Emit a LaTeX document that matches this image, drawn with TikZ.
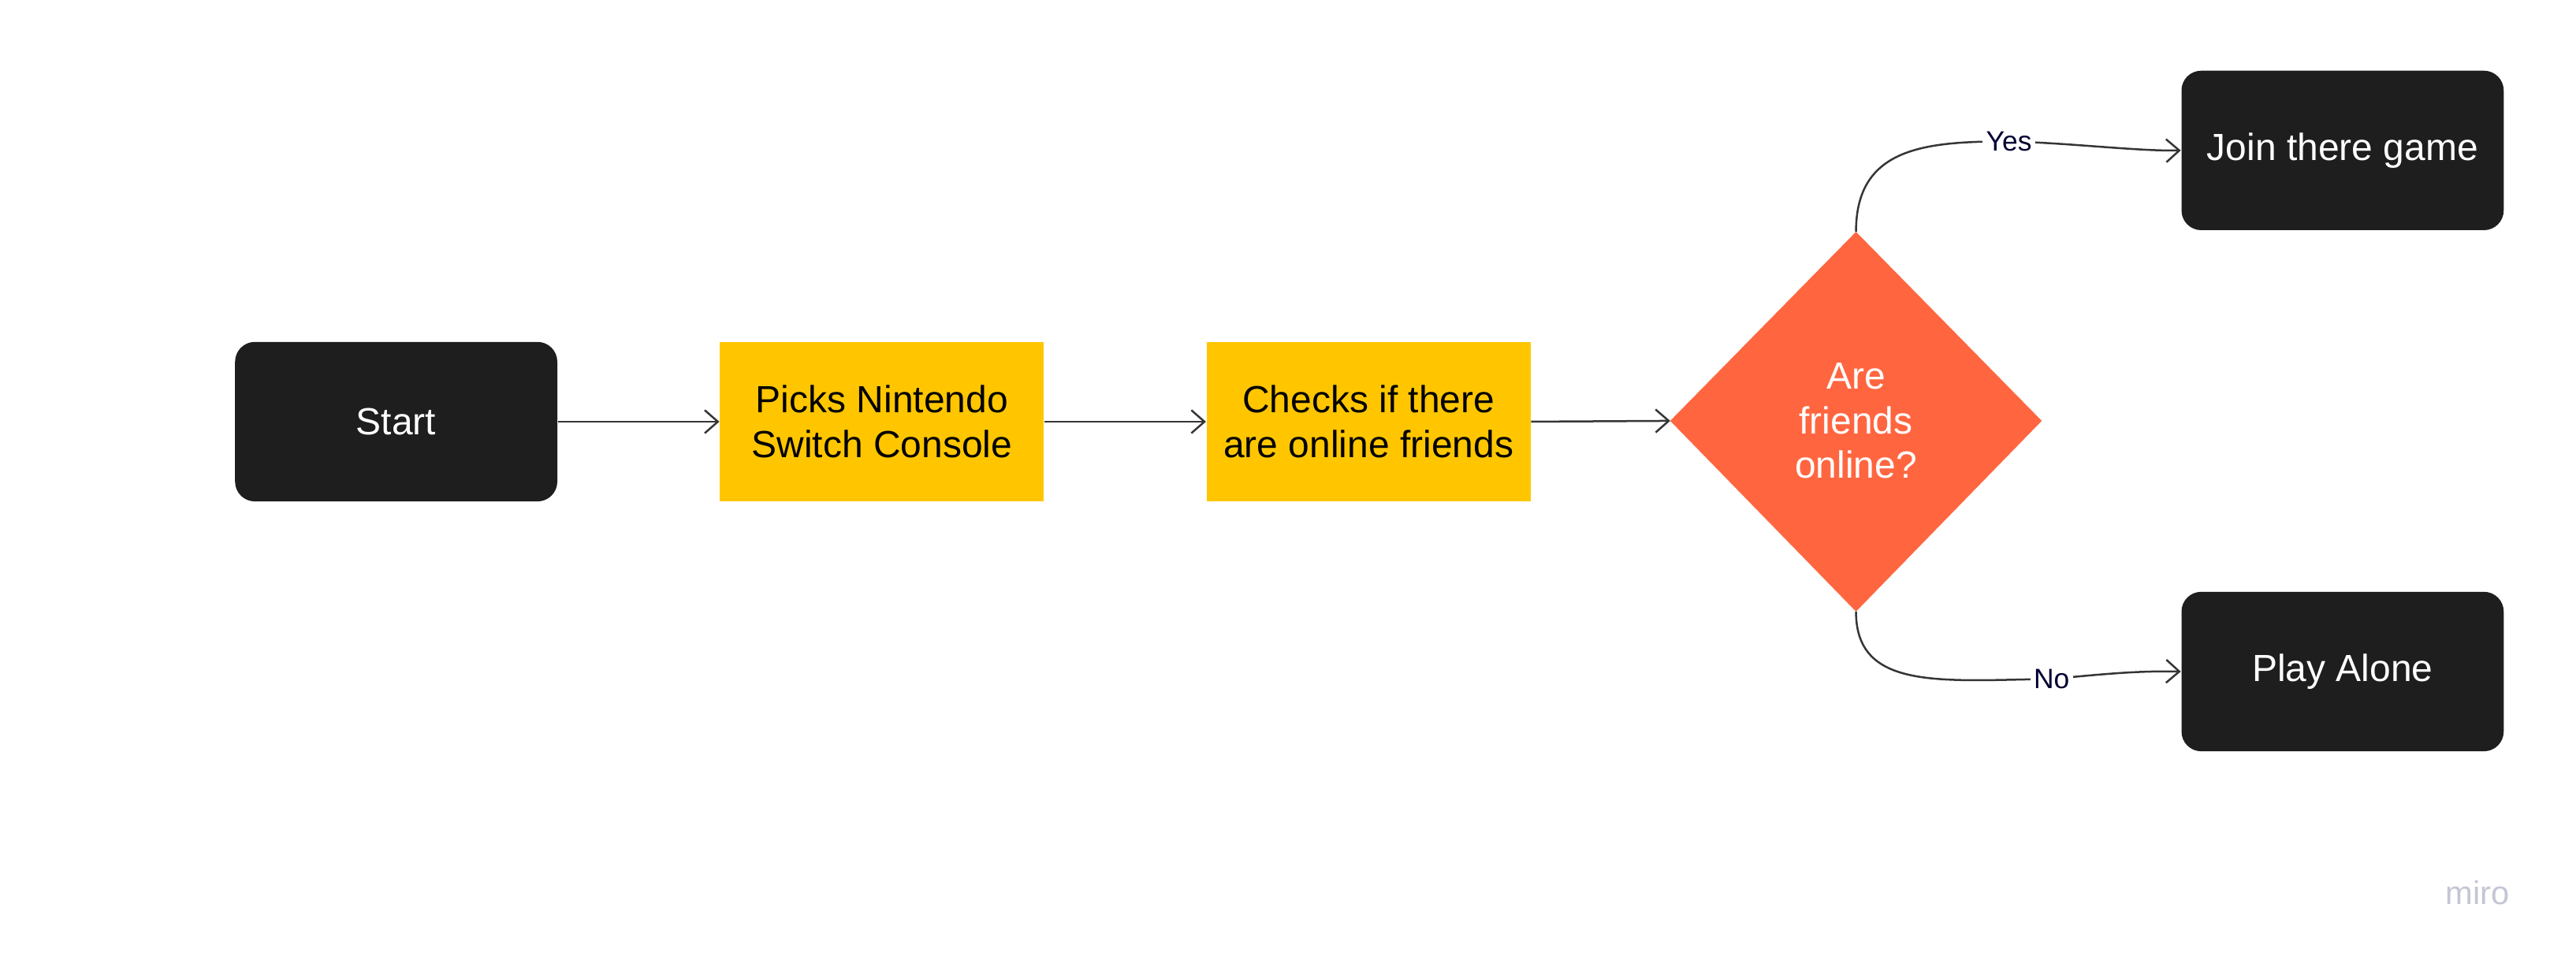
\documentclass[tikz,border=0pt]{standalone}
\usepackage{fontspec}
\setmainfont{Liberation Sans}
\usetikzlibrary{shapes.geometric,arrows.meta}
\definecolor{dark}{HTML}{1E1E1E}
\definecolor{yel}{HTML}{FFC600}
\definecolor{ora}{HTML}{FF6640}
\definecolor{miroc}{HTML}{C3C6D4}
\begin{document}
\begin{tikzpicture}[x=0.5pt,y=-0.5pt,
  blk/.style={fill=dark,rounded corners=6pt,minimum width=98pt,minimum height=48.5pt,text=white,font=\fontsize{11.5}{13.5}\selectfont,align=center},
  yb/.style={fill=yel,minimum width=98.5pt,minimum height=48.5pt,font=\fontsize{11.5}{13.5}\selectfont,align=center},
  arr/.style={draw=dark!90,line width=0.6pt,-{Straight Barb[length=4pt,width=7pt]}},
  lbl/.style={fill=white,inner sep=1pt,font=\fontsize{8.5}{9}\selectfont,text=black!80!blue}]
\useasboundingbox (0,0) rectangle (1567,586);
\node[blk] (start) at (241,256.5) {Start};
\node[yb] (pick) at (536.5,256.5) {Picks Nintendo\\Switch Console};
\node[yb] (check) at (832.5,256.5) {Checks if there\\are online friends};
\draw[fill=ora,draw=none] (1129,141) coordinate (dt) -- (1242,256) coordinate (dr) -- (1129,372) coordinate (db) -- (1016,256) coordinate (dl) -- cycle;
\node[text=white,align=center,font=\fontsize{11.5}{13.5}\selectfont] (dec) at (1129,256) {Are\\friends\\online?};
\node[blk] (join) at (1425,91.5) {Join there game};
\node[blk] (alone) at (1425,408.5) {Play Alone};
\draw[arr] (start.east) -- (pick.west);
\draw[arr] (pick.east) -- (check.west);
\draw[arr] (check.east) -- (dl);
\draw[arr] (dt) .. controls (1129,90) and (1170,86) .. (1222,86) node[lbl] (yes) {Yes} .. controls (1260,87) and (1300,92) .. (join.west);
\draw[arr] (db) .. controls (1129,420) and (1180,414) .. (1248,413) node[lbl] (no) {No} .. controls (1280,410) and (1300,408) .. (alone.west);
\node[text=miroc,font=\fontsize{10}{10}\selectfont] (miro) at (1507,543) {miro};
\end{tikzpicture}
\end{document}
